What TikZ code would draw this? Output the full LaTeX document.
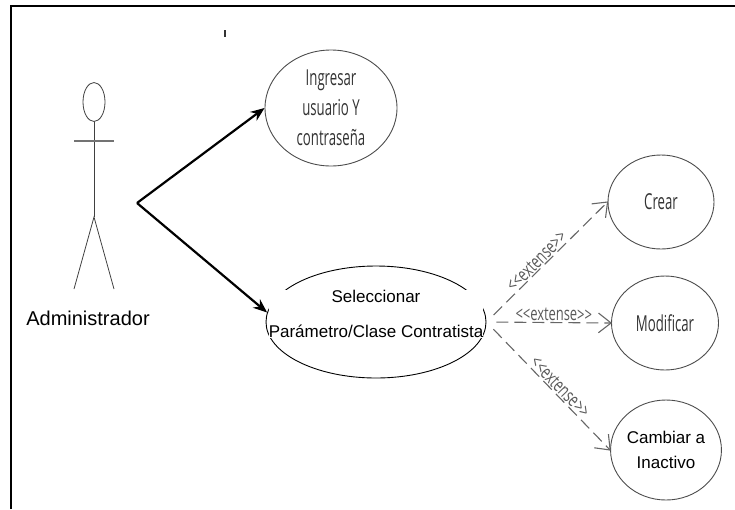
\documentclass[tikz,border=0pt]{standalone}
\usepackage{fontspec}
\setmainfont{Liberation Sans}
\newfontfamily\condfont[FakeStretch=0.6]{Open Sans}
\newfontfamily\extfont[FakeStretch=0.68]{Open Sans}
\usetikzlibrary{arrows.meta,shapes.geometric,calc}
\begin{document}
\begin{tikzpicture}[x=1pt,y=-1pt,
  usecase/.style={ellipse, draw=black!70, line width=0.9pt, inner sep=0pt},
  assoc/.style={line width=2.2pt, -{Stealth[length=14pt,width=11pt]}},
  ext/.style={draw=black!60, line width=1.1pt, dash pattern=on 12pt off 6pt, shorten <=10pt},
  exthead/.style={draw=black!60, line width=1.1pt, solid, line join=miter},
  extlbl/.style={font=\extfont\fontsize{19}{20}\selectfont, text=black!65,
    sloped, above, inner sep=1pt},
  condtxt/.style={font=\condfont\fontsize{22}{30}\selectfont, text=black!80, align=center},
  plaintxt/.style={font=\fontsize{17}{25}\selectfont, align=center},
  stick/.style={line width=0.8pt, black!75}]

\useasboundingbox (0,0) rectangle (735,509);

% frame
\draw[line width=2pt] (10.5,509) -- (10.5,5.5) -- (735,5.5);
\draw[line width=1.3pt, black!80] (225,30) -- (225,37);

% actor
\draw[stick] (94,102) ellipse [x radius=11, y radius=19.5];
\draw[stick] (94,121.5) -- (94,217);
\draw[stick, line width=1.2pt, black!55] (74,141) -- (114,141);
\draw[stick] (74,289) -- (94,217) -- (114,289);
\node[font=\fontsize{20}{24}\selectfont] (actor) at (88,318) {Administrador};
\coordinate (apex) at (137,203);

% use cases
\node[usecase, condtxt, minimum width=132pt, minimum height=116pt] (ingr) at (331,108)
  {Ingresar\\usuario Y\\contraseña};
\node[usecase, draw=black, minimum width=220pt, minimum height=112pt,
  label={[plaintxt, font=\fontsize{17}{35}\selectfont, fill=white, inner sep=0pt, yshift=8pt]center:Seleccionar\\Parámetro/Clase Contratista}]
  (selec) at (376,322) {};
\node[usecase, condtxt, minimum width=106pt, minimum height=94pt] (crear) at (661,202) {Crear};
\node[usecase, condtxt, minimum width=107pt, minimum height=94pt] (modif) at (665,323) {Modificar};
\node[usecase, plaintxt, minimum width=104pt, minimum height=100pt] (camb) at (666,450)
  {Cambiar a\\Inactivo};

% associations
\draw[assoc] (apex) -- (ingr.west);
\draw[assoc] (apex) -- (selec.175);

% extensions: dashed shafts, solid open heads
\draw[ext] (selec.east) -- node[extlbl, pos=0.46] {<<extense>>} (crear.west);
\draw[ext] (selec.east) -- node[extlbl, pos=0.54] {<<extense>>} (modif.west);
\draw[ext] (selec.east) -- node[extlbl, pos=0.55] {<<extense>>} (camb.west);
\foreach \u in {crear,modif,camb}
  \draw[exthead] ($(\u.west)!16pt!38:(selec.east)$) -- (\u.west)
                 -- ($(\u.west)!16pt!-38:(selec.east)$);
\end{tikzpicture}
\end{document}
